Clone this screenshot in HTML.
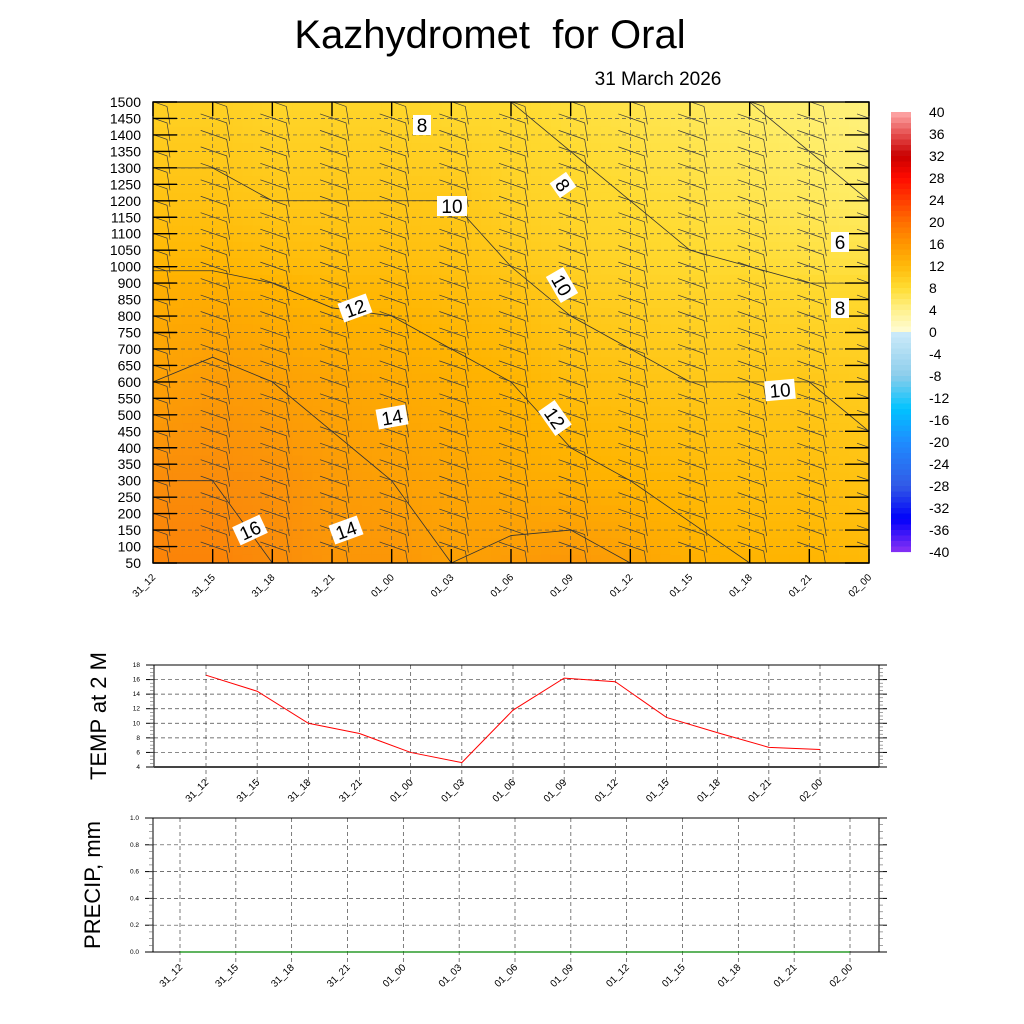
<!DOCTYPE html>
<html><head><meta charset="utf-8"><style>
body{margin:0;background:#fff;}
svg{display:block;font-family:"Liberation Sans",sans-serif;}
</style></head><body>
<svg id="s" width="1024" height="1024" viewBox="0 0 1024 1024">
<defs><clipPath id="mclip"><rect x="153" y="102" width="716" height="461"/></clipPath></defs>
<text x="490" y="48" font-size="40" text-anchor="middle" style="white-space:pre">Kazhydromet  for Oral</text>
<text x="658" y="85" font-size="19" text-anchor="middle">31 March 2026</text>
<g id="main"></g><g id="cbar"></g><g id="t2m"></g><g id="pr"></g>
</svg>
<script>
const times=["31_12","31_15","31_18","31_21","01_00","01_03","01_06","01_09","01_12","01_15","01_18","01_21","02_00"];
const levels=[1500,1450,1400,1350,1300,1250,1200,1150,1100,1050,1000,900,850,800,750,700,650,600,550,500,450,400,350,300,250,200,150,100,50];
const fieldLevels=[50,300,600,900,1200,1500];
const fieldTemps=[
[17,16,14,12.5,10.5,9],[17,16,14.5,12.5,10.5,9],[16,15.5,14,12,10,8.5],[15,14.5,13.5,11.5,10,8.5],
[15,14,13,11.5,10,8.5],[14,13.5,12.5,11,10,8],[14.5,13,12,10.5,9,8],[15,12.5,11,9.5,8.5,7.5],
[14,12,10.5,9,8,7],[12.5,11.5,10,8.5,7.5,6.5],[12,11,10,8.5,7,6],[12,11,10,8,6.5,5.5],[11.5,10.5,9.5,8,6,5]];
const contourVals=[6,8,10,12,14,16];
const t2m=[16.6,14.4,10,8.6,6,4.6,11.8,16.2,15.7,10.8,8.7,6.7,6.4];
const precip=[0,0,0,0,0,0,0,0,0,0,0,0,0];
const cbTicks=[40,36,32,28,24,20,16,12,8,4,0,-4,-8,-12,-16,-20,-24,-28,-32,-36,-40];
const NS="http://www.w3.org/2000/svg";
function el(p,t,a,txt){const e=document.createElementNS(NS,t);for(const k in a)e.setAttribute(k,a[k]);if(txt!==undefined)e.textContent=txt;p.appendChild(e);return e;}
const X0=153,X1=869,Y0=102,Y1=563;
const mx=i=>X0+i*(X1-X0)/(times.length-1);
const levIdx=v=>{for(let k=0;k<levels.length-1;k++){const a=levels[k],b=levels[k+1];if(v<=a&&v>=b)return k+(a-v)/(a-b);}return v>levels[0]?0:levels.length-1;};
const my=v=>Y0+levIdx(v)*(Y1-Y0)/(levels.length-1);
const stops=[[0,[255,252,215]],[4,[255,246,150]],[6,[255,236,100]],[8,[255,218,48]],[12,[255,180,0]],[16,[250,140,10]],[20,[255,106,0]]];
function tcol(t){for(let k=0;k<stops.length-1;k++){const[a,ca]=stops[k],[b,cb]=stops[k+1];if(t<=b||k==stops.length-2){const f=Math.max(0,Math.min(1,(t-a)/(b-a)));return`rgb(${ca.map((c,j)=>Math.round(c+(cb[j]-c)*f)).join(',')})`;}}}
function tempAt(fi,h){const r=fieldTemps[fi];for(let k=0;k<fieldLevels.length-1;k++){if(h<=fieldLevels[k+1]){const f=(h-fieldLevels[k])/(fieldLevels[k+1]-fieldLevels[k]);return r[k]+(r[k+1]-r[k])*f;}}return r[r.length-1];}
const M=document.getElementById('main');
const field=el(M,'g',{});


const NX=72,NY=56;
for(let a=0;a<NX;a++){for(let b=0;b<NY;b++){
 const fx=a/(NX-1)*(times.length-1);const i0=Math.min(Math.floor(fx),times.length-2),f=fx-i0;
 const py=Y0+(b+0.5)*(Y1-Y0)/NY;const li=(py-Y0)/(Y1-Y0)*(levels.length-1);const k=Math.min(Math.floor(li),levels.length-2);const h=levels[k]+(levels[k+1]-levels[k])*(li-k);
 const t=tempAt(i0,h)*(1-f)+tempAt(i0+1,h)*f;
 el(field,'rect',{x:X0+a*(X1-X0)/NX,y:Y0+b*(Y1-Y0)/NY,width:(X1-X0)/NX+0.6,height:(Y1-Y0)/NY+0.6,fill:tcol(t)});
}}
for(let k=1;k<levels.length-1;k++)el(M,'line',{x1:X0,x2:X1,y1:my(levels[k]),y2:my(levels[k]),stroke:'#555','stroke-dasharray':'4,3','stroke-width':0.7});
for(let i=1;i<times.length-1;i++)el(M,'line',{x1:mx(i),x2:mx(i),y1:Y0,y2:Y1,stroke:'#555','stroke-dasharray':'4,3','stroke-width':0.7});
contourVals.forEach(c=>{
 const pts=[];times.forEach((t,i)=>{const r=fieldTemps[i];for(let k=0;k<r.length-1;k++){if((r[k]-c)*(r[k+1]-c)<=0&&r[k]!=r[k+1]){const h=fieldLevels[k]+(c-r[k])/(r[k+1]-r[k])*(fieldLevels[k+1]-fieldLevels[k]);pts.push(mx(i)+','+my(h));break;}}});
 if(pts.length>1){const p=el(M,'polyline',{points:pts.join(' '),fill:'none',stroke:'#333','stroke-width':0.8});
 
 }
});
const barbs=el(M,'g',{stroke:'#3a3a3a','stroke-width':0.7,fill:'none','clip-path':'url(#mclip)'});


times.forEach((t,i)=>{levels.forEach((l,k)=>{if(k==0||k%1)return;const x=mx(i)+14,y=my(l);
 el(barbs,'path',{d:`M${x+3},${y+6} L${x},${y-12} L${x-26},${y-21}`});});});
el(M,'rect',{x:X0,y:Y0,width:X1-X0,height:Y1-Y0,fill:'none',stroke:'#000','stroke-width':1.4});
levels.forEach(l=>{el(M,'line',{x1:X0,x2:X0+24,y1:my(l),y2:my(l),stroke:'#000','stroke-width':1.4});el(M,'line',{x1:X1,x2:X1-24,y1:my(l),y2:my(l),stroke:'#000','stroke-width':1.4});
 const tx=el(M,'text',{x:141,y:my(l)+5,'font-size':14,'text-anchor':'end'},l);
 
 });
times.forEach((t,i)=>{el(M,'line',{x1:mx(i),x2:mx(i),y1:Y0,y2:Y0+14,stroke:'#000','stroke-width':1.4});el(M,'line',{x1:mx(i),x2:mx(i),y1:Y1,y2:Y1-14,stroke:'#000','stroke-width':1.4});
 const tx=el(M,'text',{x:mx(i)+3,y:578,'font-size':10,'text-anchor':'end',transform:`rotate(-45 ${mx(i)+3} 578)`},t);
 
 });
const labs=[[422,125,'8',0],[452,206,'10',0],[563,185,'8',55],[355,308,'12',-20],[562,285,'10',60],[392,417,'14',-10],[555,418,'12',55],[250,530,'16',-25],[346,530,'14',-20],[840,242,'6',0],[840,308,'8',0],[780,390,'10',-5]];
labs.forEach(([x,y,s,r])=>{const g=el(M,'g',{transform:`rotate(${r} ${x} ${y})`});
 
 
 el(g,'rect',{x:x-s.length*6-3,y:y-10,width:s.length*12+6,height:20,fill:'#fff'});el(g,'text',{x:x,y:y+7,'font-size':19,'text-anchor':'middle'},s);});
const C=document.getElementById('cbar');


const cstops=[[40,[255,170,170]],[36,[230,80,80]],[32,[200,0,0]],[28,[255,10,0]],[24,[255,60,0]],[20,[255,110,0]],[16,[255,150,0]],[12,[255,185,10]],[8,[255,220,50]],[4,[255,240,140]],[0.01,[255,252,215]],[-0.01,[205,235,250]],[-8,[140,205,235]],[-14,[0,195,255]],[-20,[30,140,255]],[-28,[50,90,230]],[-34,[0,0,250]],[-40,[140,50,245]]];
function ccol(t){for(let k=0;k<cstops.length-1;k++){const[a,ca]=cstops[k],[b,cb]=cstops[k+1];if(t<=a&&t>=b){const f=(a-t)/(a-b);return`rgb(${ca.map((c,j)=>Math.round(c+(cb[j]-c)*f)).join(',')})`;}}return '#fff';}
const cy=v=>112+(40-v)/80*440;
for(let v=40;v>-40;v-=1){el(C,'rect',{x:891,y:cy(v),width:20,height:5.6,fill:ccol(v-0.5)});}
cbTicks.forEach(v=>el(C,'text',{x:929,y:cy(v)+5,'font-size':14},v));
const T=document.getElementById('t2m');
const TX0=154,TX1=879,TY0=665,TY1=767,tmin=4,tmax=18;
const tx=i=>206+i*(820-206)/12,ty=v=>TY1-(v-tmin)/(tmax-tmin)*(TY1-TY0);
for(let v=6;v<18;v+=2)el(T,'line',{x1:TX0,x2:TX1,y1:ty(v),y2:ty(v),stroke:'#444','stroke-dasharray':'4,3','stroke-width':0.7});
times.forEach((t,i)=>{el(T,'line',{x1:tx(i),x2:tx(i),y1:TY0,y2:TY1+18,stroke:'#444','stroke-dasharray':'4,3','stroke-width':0.7});
 el(T,'text',{x:tx(i)+3,y:783,'font-size':10,'text-anchor':'end',transform:`rotate(-45 ${tx(i)+3} 783)`},t);});
el(T,'rect',{x:TX0,y:TY0,width:TX1-TX0,height:TY1-TY0,fill:'none',stroke:'#000','stroke-width':1});
el(T,'line',{x1:TX0,x2:TX1,y1:TY1,y2:TY1,stroke:'#444','stroke-width':2});
for(let v=4;v<=18;v+=2){el(T,'text',{x:TX0-14,y:ty(v)+2,'font-size':6.5,'text-anchor':'end'},v);el(T,'line',{x1:TX0,x2:TX0-8,y1:ty(v),y2:ty(v),stroke:'#000'});el(T,'line',{x1:TX1,x2:TX1+8,y1:ty(v),y2:ty(v),stroke:'#000'});}
for(let v=4.5;v<18;v+=0.5){el(T,'line',{x1:TX1,x2:TX1+4,y1:ty(v),y2:ty(v),stroke:'#666','stroke-width':0.6});el(T,'line',{x1:TX0,x2:TX0-4,y1:ty(v),y2:ty(v),stroke:'#666','stroke-width':0.6});}
const tl=el(T,'polyline',{points:t2m.map((v,i)=>tx(i)+','+ty(v)).join(' '),fill:'none',stroke:'#f00','stroke-width':1});


el(T,'text',{x:106,y:716,'font-size':22,'text-anchor':'middle',transform:'rotate(-90 106 716)'},'TEMP at 2 M');
const P=document.getElementById('pr');
const PX0=153,PX1=879,PY0=818,PY1=952;
const px=i=>180+i*(850-180)/12,py=v=>PY1-v*(PY1-PY0);
for(let v=0.2;v<1;v+=0.2)el(P,'line',{x1:PX0,x2:PX1,y1:py(v),y2:py(v),stroke:'#444','stroke-dasharray':'4,3','stroke-width':0.7});
times.forEach((t,i)=>{el(P,'line',{x1:px(i),x2:px(i),y1:PY0,y2:PY1+14,stroke:'#444','stroke-dasharray':'4,3','stroke-width':0.7});
 el(P,'text',{x:px(i)+3,y:968,'font-size':10,'text-anchor':'end',transform:`rotate(-45 ${px(i)+3} 968)`},t);});
el(P,'rect',{x:PX0,y:PY0,width:PX1-PX0,height:PY1-PY0,fill:'none',stroke:'#000','stroke-width':1});
[0,0.2,0.4,0.6,0.8,1].forEach(v=>{el(P,'text',{x:PX0-14,y:py(v)+2,'font-size':6.5,'text-anchor':'end'},v.toFixed(1));el(P,'line',{x1:PX0,x2:PX0-8,y1:py(v),y2:py(v),stroke:'#000'});el(P,'line',{x1:PX1,x2:PX1+8,y1:py(v),y2:py(v),stroke:'#000'});});
for(let v=0.05;v<1;v+=0.05){el(P,'line',{x1:PX1,x2:PX1+4,y1:py(v),y2:py(v),stroke:'#666','stroke-width':0.6});el(P,'line',{x1:PX0,x2:PX0-4,y1:py(v),y2:py(v),stroke:'#666','stroke-width':0.6});}
const pl=el(P,'polyline',{points:precip.map((v,i)=>px(i)+','+py(v)).join(' '),fill:'none',stroke:'#080','stroke-width':1.2});


el(P,'text',{x:100,y:885,'font-size':22,'text-anchor':'middle',transform:'rotate(-90 100 885)'},'PRECIP, mm');
</script>
</body></html>
